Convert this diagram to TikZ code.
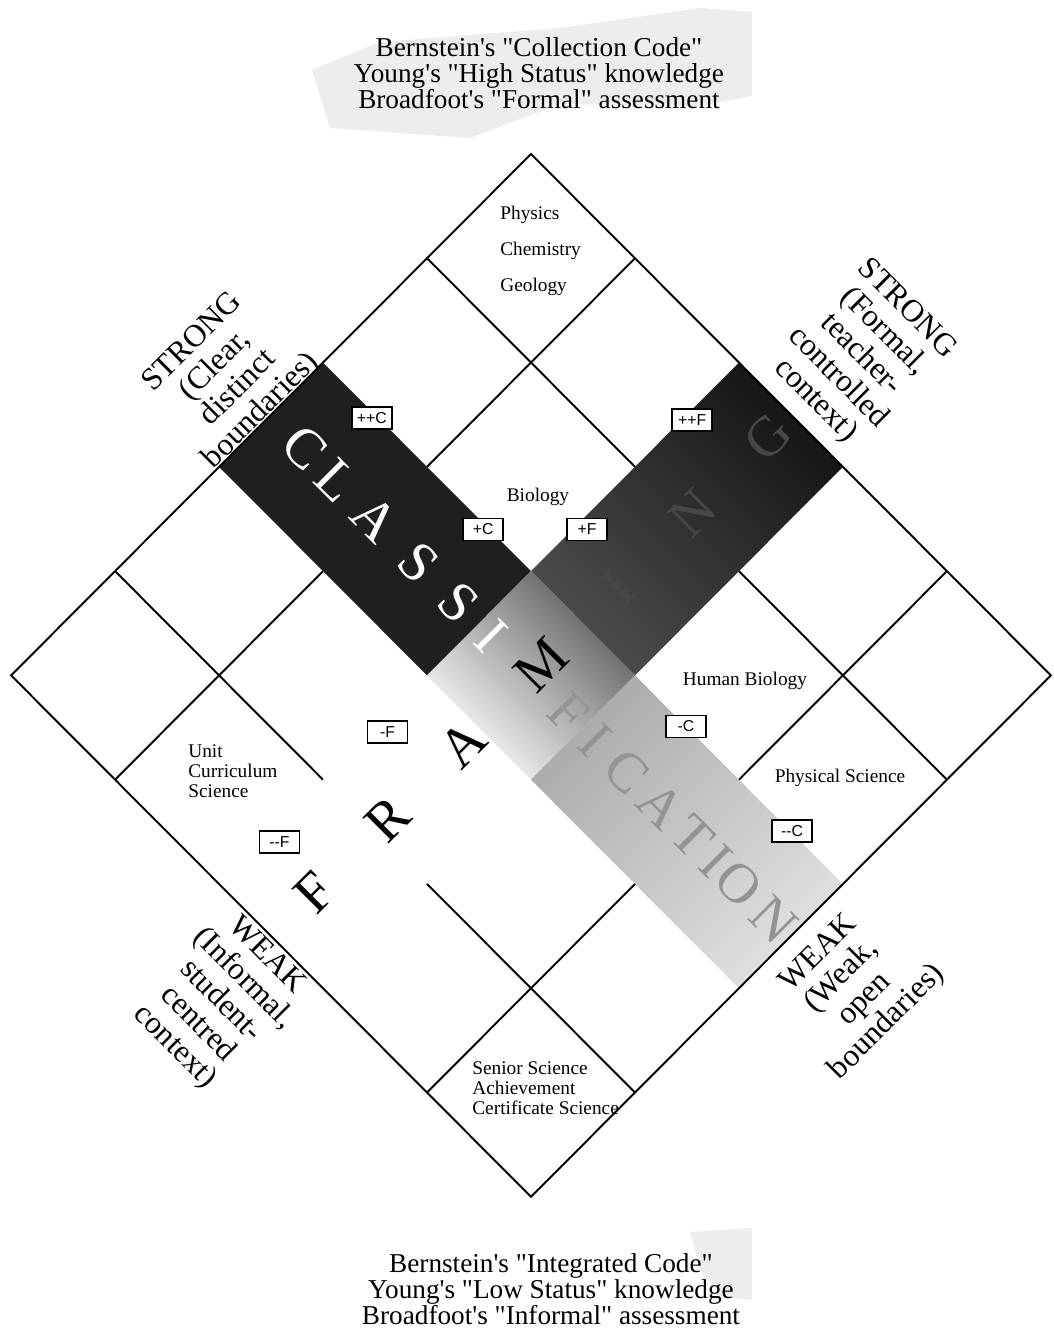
\documentclass[tikz,border=0pt]{standalone}
\usepackage{fontspec}
\setmainfont{Liberation Serif}[Ligatures=TeXOff]
\setsansfont{Liberation Sans}
\usetikzlibrary{positioning}

\begin{document}
\begin{tikzpicture}[
    x=0.02cm, y=-0.02cm,
    cellline/.style={line width=1.1pt, line join=miter},
    codebox/.style={draw, fill=white, line width=0.9pt, font=\sffamily\fontsize{9}{9}\selectfont, minimum width=0.8cm, minimum height=0.44cm, inner sep=1pt},
    celltext/.style={font=\fontsize{11}{11.4}\selectfont, align=left, inner sep=0pt},
    sidelabel/.style={font=\fontsize{18}{18.4}\selectfont, align=center, inner sep=0pt},
    headtext/.style={font=\fontsize{15.5}{14.8}\selectfont, align=center, inner sep=0pt},
    bandletter/.style={font=\fontsize{32}{32}\selectfont, inner sep=0pt},
    smudge/.style={fill=black!7}
]
    \useasboundingbox (-531,-154) rectangle (523,1189);

    \fill[smudge] (-219,-84) -- (-151,-112) -- (29,-126) -- (169,-146) -- (221,-142) -- (221,-58) -- (169,-48) -- (29,-50) -- (-61,-16) -- (-201,-26) -- cycle;
    \fill[smudge] (159,1078) -- (221,1074) -- (221,1146) -- (189,1142) -- (169,1116) -- cycle;

    \node [headtext] (collection) at (8,-81) {Bernstein's "Collection Code"\\Young's "High Status" knowledge\\Broadfoot's "Formal" assessment};
    \node [headtext] (integrated) at (20,1135) {Bernstein's "Integrated Code"\\Young's "Low Status" knowledge\\Broadfoot's "Informal" assessment};

    \begin{scope}[x={(2.08cm,-2.086cm)}, y={(-2.08cm,-2.086cm)}]
        \fill[black!88] (0,2) -- (2,2) -- (2,3) -- (0,3) -- cycle;
        \shade[top color=black!92, bottom color=black!70, shading angle=-45] (2,0) -- (3,0) -- (3,2) -- (2,2) -- cycle;
        \shade[top color=black!64, bottom color=white, shading angle=-45] (2,2) -- (3,2) -- (3,3) -- (2,3) -- cycle;
        \shade[top color=black!33, bottom color=black!12, shading angle=45] (3,2) -- (5,2) -- (5,3) -- (3,3) -- cycle;

        \draw[cellline] (1,0) -- (1,2) (0,1) -- (2,1)
                        (4,0) -- (4,2) (3,1) -- (5,1)
                        (1,3) -- (1,5) (0,4) -- (2,4)
                        (4,3) -- (4,5) (3,4) -- (5,4);
        \draw[cellline] (0,0) -- (5,0) -- (5,5) -- (0,5) -- cycle;

        \foreach \ch/\pos/\col [count=\i] in {C/0.32/white, L/0.63/white, A/1.0/white, S/1.42/white, S/1.8/white, I/2.12/white,
                F/2.86/black!42, I/3.12/black!42, C/3.42/black!42, A/3.75/black!42, T/4.05/black!42, I/4.28/black!42, O/4.5/black!42, N/4.84/black!42}
            \node[bandletter, text=\col, rotate=-45] (class\i) at (\pos,2.5) {\ch};
        \foreach \ch/\pos/\col [count=\j] in {F/4.58/black, R/3.88/black, A/3.16/black, M/2.4/black, I/1.66/black!72, N/0.94/black!72, G/0.22/black!72}
            \node[bandletter, text=\col, rotate=45] (fram\j) at (2.5,\pos) {\ch};

        \node[codebox] (cpp) at (0.5,2.03) {++C};
        \node[codebox] (cp) at (1.57,2.03) {+C};
        \node[codebox] (cm) at (3.49,2.0) {-C};
        \node[codebox] (cmm) at (4.5,1.99) {-{}-C};
        \node[codebox] (fpp) at (2.05,0.5) {++F};
        \node[codebox] (fp) at (2.07,1.53) {+F};
        \node[codebox] (fm) at (2.08,3.46) {-F};
        \node[codebox] (fmm) at (2.09,4.51) {-{}-F};

        \node[sidelabel, rotate=45] (strongcl) at (-0.39,2.53) {STRONG\\(Clear,\\distinct\\boundaries)};
        \node[sidelabel, rotate=-45] (strongfr) at (2.55,-0.62) {STRONG\\(Formal,\\teacher-\\controlled\\context)};
        \node[sidelabel, rotate=-45] (weakfr) at (2.57,5.56) {WEAK\\(Informal,\\student-\\centred\\context)};
        \node[sidelabel, rotate=45] (weakcl) at (5.55,2.45) {WEAK\\(Weak,\\open\\boundaries)};
    \end{scope}

    \node[celltext, anchor=west, font=\fontsize{11}{20.4}\selectfont] (physics) at (-31,97) {Physics\\Chemistry\\Geology};
    \node[celltext] (biology) at (7,343) {Biology};
    \node[celltext] (humbio) at (214,527) {Human Biology};
    \node[celltext] (physci) at (309,624) {Physical Science};
    \node[celltext, anchor=west] (unitsci) at (-343,617) {Unit\\Curriculum\\Science};
    \node[celltext, anchor=west] (senior) at (-59,934) {Senior Science\\Achievement\\Certificate Science};
\end{tikzpicture}
\end{document}
